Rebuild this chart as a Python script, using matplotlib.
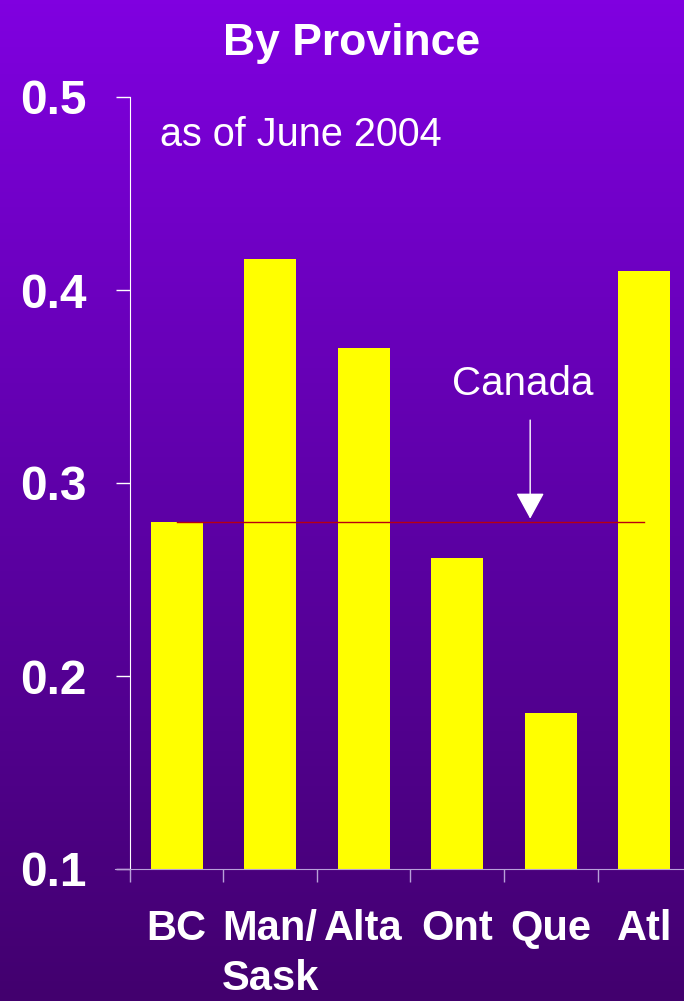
import numpy as np
import matplotlib
matplotlib.use("Agg")
import matplotlib.pyplot as plt
from matplotlib.colors import LinearSegmentedColormap

categories = ["BC", "Man/\nSask", "Alta", "Ont", "Que", "Atl"]
values = [0.28, 0.416, 0.370, 0.261, 0.181, 0.410]
canada_value = 0.28
yticks = [0.1, 0.2, 0.3, 0.4, 0.5]
ytick_labels = ["0.1", "0.2", "0.3", "0.4", "0.5"]

W, H = 684, 1001
fig = plt.figure(figsize=(W / 100, H / 100), dpi=100)

# gradient background
bg = fig.add_axes([0, 0, 1, 1], zorder=-10)
cmap = LinearSegmentedColormap.from_list("bg", ["#8000E0", "#5E00A8", "#42006E"])
grad = np.linspace(0, 1, 256).reshape(-1, 1)
bg.imshow(grad, aspect="auto", cmap=cmap, extent=[0, 1, 0, 1])
bg.axis("off")

ax = fig.add_axes([115 / W, 132 / H, 1 - 115 / W, (904 - 132) / H])
ax.patch.set_alpha(0)
font = "Liberation Sans"

x = np.arange(len(categories))
ax.bar(x, values, width=0.56, color="#FFFF00", bottom=0, zorder=2)
ax.set_xlim(-0.66, 5.425)
ax.set_ylim(0.1, 0.5)

# Canada reference line
ax.plot([0, 5], [canada_value, canada_value], color="#B80010", lw=1, zorder=3)

for s in ["top", "right"]:
    ax.spines[s].set_visible(False)
ax.spines["left"].set_position(("data", -0.5))
ax.spines["left"].set_color("white")
ax.spines["bottom"].set_color("#B8A0D8")

ax.set_yticks(yticks)
ax.set_yticklabels(ytick_labels, fontsize=34.5, fontweight="bold", color="white", family=font)
ax.tick_params(axis="y", direction="out", length=10, width=1, color="white", pad=21)

ax.set_xticks(x)
ax.set_xticklabels(categories, fontsize=30, fontweight="bold", color="white", family=font,
                   linespacing=1.3)
ax.tick_params(axis="x", which="major", length=0, pad=29)
ax.set_xticks(np.arange(-0.5, 5.0, 1.0), minor=True)
ax.tick_params(axis="x", which="minor", direction="out", length=9.5, width=1, color="#B8A0D8")

# Arrow
ax.annotate("", xy=(3.78, 0.2815), xytext=(3.78, 0.3326),
            arrowprops=dict(arrowstyle="-|>,head_length=1.1,head_width=0.6",
                            mutation_scale=15, facecolor="white", edgecolor="white", lw=1,
                            shrinkA=0, shrinkB=0), zorder=4)

fig.text(352 / W, 1 - 55 / H, "By Province", ha="center", va="baseline",
         fontsize=32, fontweight="bold", color="white", family=font)
fig.text(160 / W, 1 - 135 / H, "as of June 2004", ha="left", va="center",
         fontsize=28.5, color="white", family=font)
fig.text(523 / W, 1 - 384 / H, "Canada", ha="center", va="center",
         fontsize=29, color="white", family=font)

fig.savefig("out.png", dpi=100)
